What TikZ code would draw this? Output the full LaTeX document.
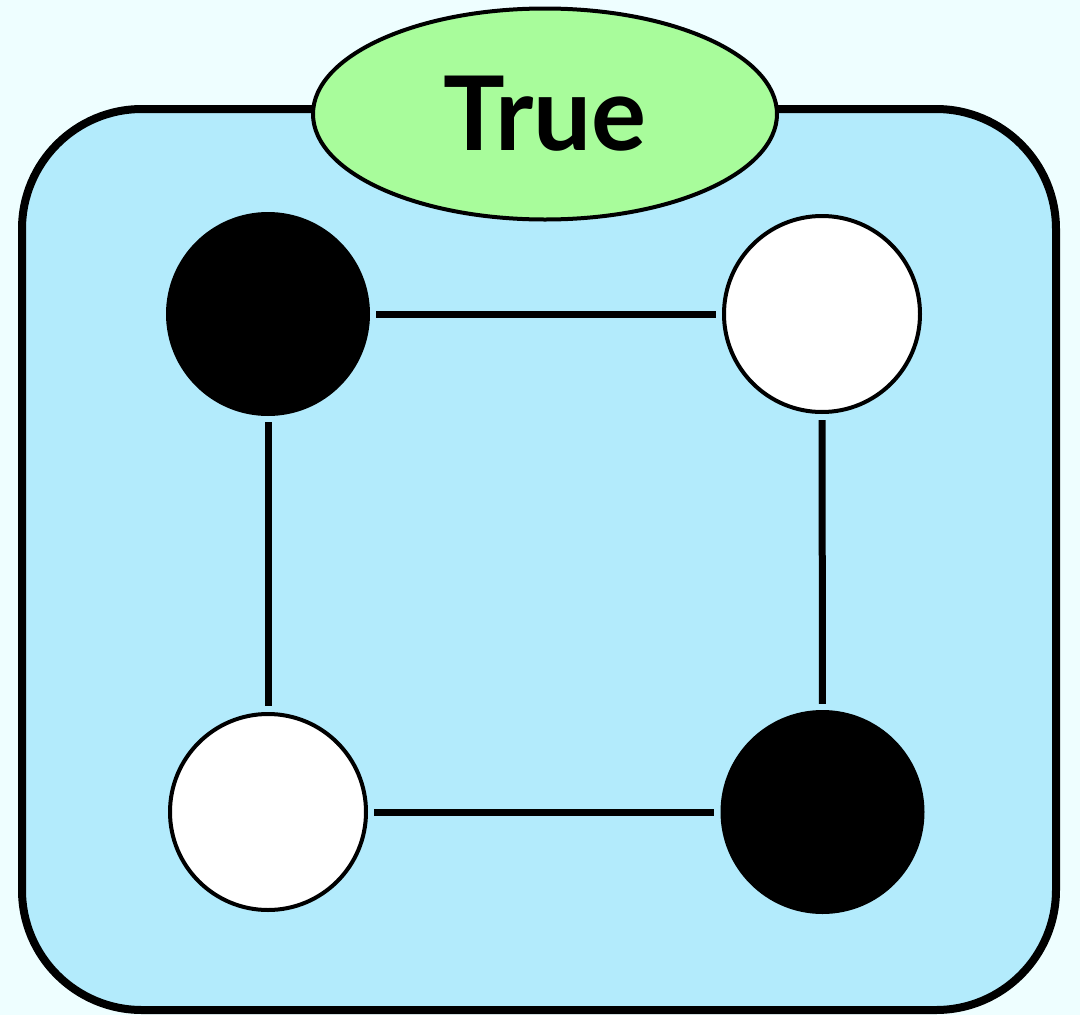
\documentclass[tikz,border=0pt]{standalone}
\usepackage{fontspec}
\setmainfont{Lato}
\usetikzlibrary{shapes.geometric}
\definecolor{bgc}{HTML}{EEFEFF}
\definecolor{boxc}{HTML}{B3EBFC}
\definecolor{labc}{HTML}{A8FC9B}
\tikzset{
  stone/.style={circle, inner sep=0pt, minimum size=#1},
  blackstone/.style={stone=204pt, fill=black, draw=none},
  whitestone/.style={stone=196pt, fill=white, draw=black, line width=4pt},
  link/.style={line width=7pt, shorten <=6pt, shorten >=6pt},
}
\begin{document}
\begin{tikzpicture}[x=1pt,y=-1pt]
\fill[bgc] (0,0) rectangle (1080,1015);
\useasboundingbox (0,0) rectangle (1080,1015);
\draw[line width=8pt, fill=boxc, rounded corners=120pt] (22,109) rectangle (1056,1010);
\node[blackstone] (tl) at (268,314) {};
\node[whitestone] (tr) at (822,314) {};
\node[whitestone] (bl) at (268,812) {};
\node[blackstone] (br) at (822.5,812) {};
\draw[link] (tl) -- (tr);
\draw[link] (tl) -- (bl);
\draw[link] (tr) -- (br);
\draw[link] (bl) -- (br);
\node[ellipse, draw=black, line width=4pt, fill=labc, minimum width=464pt, minimum height=211pt, inner sep=0pt,
      font=\fontsize{103}{110}\selectfont\bfseries] (lab) at (545,114) {True};
\end{tikzpicture}
\end{document}
